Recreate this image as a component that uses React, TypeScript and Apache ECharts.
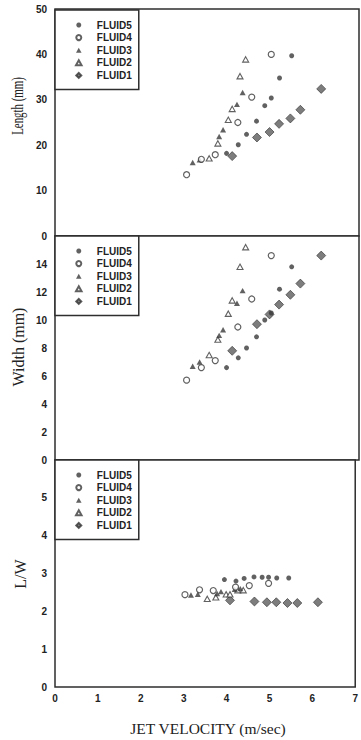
import React, { useEffect, useRef } from "react";
import * as echarts from "echarts";

// FLUID5 (filled circles)
const X5 = [3.95, 4.22, 4.41, 4.64, 4.83, 4.98, 5.17, 5.45];
const L5 = [18.2, 20.1, 22.4, 25.3, 28.7, 30.4, 34.8, 39.7];
const W5 = [6.6, 7.3, 8.0, 8.8, 10.0, 10.5, 12.2, 13.8];
const R5 = [2.84, 2.8, 2.87, 2.91, 2.9, 2.9, 2.88, 2.88];
// FLUID4 (open circles)
const X4 = [3.03, 3.37, 3.69, 4.21, 4.53, 4.98];
const L4 = [13.5, 16.9, 17.9, 25.0, 30.6, 40.0];
const W4 = [5.7, 6.6, 7.1, 9.5, 11.5, 14.6];
const R4 = [2.44, 2.57, 2.55, 2.64, 2.68, 2.74];
// FLUID3 (filled triangles)
const X3 = [3.17, 3.33, 3.78, 3.87, 4.19, 4.32];
const L3 = [16.2, 16.8, 21.9, 23.4, 29.0, 31.6];
const W3 = [6.7, 7.0, 8.9, 9.3, 11.2, 12.1];
const R3 = [2.43, 2.45, 2.47, 2.52, 2.58, 2.6];
// FLUID2 (open triangles)
const X2 = [3.55, 3.75, 3.99, 4.08, 4.26, 4.39];
const L2 = [17.1, 20.4, 25.6, 28.0, 35.2, 38.9];
const W2 = [7.5, 8.6, 10.45, 11.4, 13.8, 15.2];
const R2 = [2.33, 2.37, 2.45, 2.45, 2.56, 2.56];
// FLUID1 (diamonds)
const X1 = [4.08, 4.65, 4.94, 5.16, 5.42, 5.65, 6.13];
const L1 = [17.6, 21.7, 22.9, 24.7, 25.9, 27.8, 32.4];
const W1 = [7.8, 9.7, 10.4, 11.1, 11.8, 12.6, 14.6];
const R1 = [2.29, 2.26, 2.24, 2.24, 2.22, 2.22, 2.24];

const NAMES = ["FLUID5", "FLUID4", "FLUID3", "FLUID2", "FLUID1"];
const Y_NAMES = ["Length (mm)", "Width (mm)", "L/W"];
const X_NAME = "JET VELOCITY (m/sec)";

const DARK = "#2e2e2e";
const TRI = "path://M5,0L10,9L0,9Z";
const DIA = "path://M5,0L10,5L5,10L0,5Z";

const zip = (xs: number[], ys: number[]) => xs.map((x, i) => [x, ys[i]]);

export default function App() {
  const ref = useRef<HTMLDivElement>(null);
  useEffect(() => {
    if (!ref.current) return;
    const chart = echarts.init(ref.current, undefined, { renderer: "svg" });

    const grids = [
      { left: 55, right: 2, top: 9, height: 227 },
      { left: 55, right: 2, top: 236, height: 224 },
      { left: 55, right: 2, top: 460, height: 227 },
    ].map((g) => ({
      ...g,
      show: true,
      borderColor: DARK,
      borderWidth: 1.5,
      backgroundColor: "#fff",
    }));

    const yCfg = [
      { max: 50, interval: 10, showMax: true },
      { max: 16, interval: 2, showMax: false },
      { max: 6, interval: 1, showMax: false },
    ];

    const labelStyle = {
      color: "#222",
      fontFamily: "Liberation Sans",
      fontWeight: "bold" as const,
      fontSize: 10,
    };

    const xAxis = [0, 1, 2].map((i) => ({
      type: "value",
      gridIndex: i,
      min: 0,
      max: 7,
      interval: 1,
      axisLine: { show: false },
      axisTick: { show: false },
      splitLine: { show: false },
      axisLabel: { show: i === 2, margin: 6, ...labelStyle },
    }));

    const yAxis = yCfg.map((c, i) => ({
      type: "value",
      gridIndex: i,
      min: 0,
      max: c.max,
      interval: c.interval,
      axisLine: { show: false },
      axisTick: { show: false },
      splitLine: { show: false },
      axisLabel: { showMaxLabel: c.showMax, margin: 8, ...labelStyle },
    }));

    const panels = [
      [L5, L4, L3, L2, L1],
      [W5, W4, W3, W2, W1],
      [R5, R4, R3, R2, R1],
    ];
    const xs = [X5, X4, X3, X2, X1];
    const styles = [
      { symbol: "circle", symbolSize: 5, itemStyle: { color: "#3a3a3a" } },
      {
        symbol: "circle",
        symbolSize: 6,
        itemStyle: { color: "#fff", borderColor: "#3a3a3a", borderWidth: 1.2 },
      },
      { symbol: TRI, symbolSize: 6, itemStyle: { color: "#3a3a3a" } },
      {
        symbol: TRI,
        symbolSize: 6,
        itemStyle: { color: "#fff", borderColor: "#3a3a3a", borderWidth: 1.1 },
      },
      {
        symbol: DIA,
        symbolSize: 9,
        itemStyle: { color: "#5c5c5c", borderColor: "#333", borderWidth: 0.8 },
      },
    ];

    const series: any[] = [];
    panels.forEach((ys, p) => {
      ys.forEach((arr, k) => {
        series.push({
          type: "scatter",
          name: NAMES[k],
          xAxisIndex: p,
          yAxisIndex: p,
          data: zip(xs[k], arr),
          symbolKeepAspect: true,
          ...styles[k],
          z: 10 - k,
        });
      });
    });

    const legend = [10, 236, 460].map((top) => ({
      left: 55,
      top,
      orient: "vertical",
      data: NAMES,
      itemWidth: 26,
      itemHeight: 5,
      itemGap: 2.6,
      symbolKeepAspect: true,
      padding: [10, 7, 9, 20],
      borderColor: DARK,
      borderWidth: 1.5,
      backgroundColor: "#fff",
      selectedMode: false,
      textStyle: {
        color: "#222",
        fontFamily: "Liberation Sans",
        fontWeight: "bold",
        fontSize: 10,
        lineHeight: 10,
      },
    }));

    const nameFont = "Liberation Serif";
    const graphic: any[] = [
      {
        type: "text",
        x: 18,
        y: 106,
        rotation: Math.PI / 2,
        scaleX: 0.68,
        style: {
          text: Y_NAMES[0],
          font: `16px '${nameFont}'`,
          fill: "#222",
          align: "center",
          verticalAlign: "middle",
        },
      },
      {
        type: "text",
        x: 18,
        y: 347,
        rotation: Math.PI / 2,
        style: {
          text: Y_NAMES[1],
          font: `16px '${nameFont}'`,
          fill: "#222",
          align: "center",
          verticalAlign: "middle",
        },
      },
      {
        type: "text",
        x: 20,
        y: 574,
        rotation: Math.PI / 2,
        style: {
          text: Y_NAMES[2],
          font: `16px '${nameFont}'`,
          fill: "#222",
          align: "center",
          verticalAlign: "middle",
        },
      },
      {
        type: "text",
        x: 208,
        y: 728,
        style: {
          text: X_NAME,
          font: `15.5px '${nameFont}'`,
          fill: "#222",
          align: "center",
          verticalAlign: "middle",
        },
      },
    ];

    chart.setOption({
      animation: false,
      backgroundColor: "#fff",
      grid: grids,
      xAxis,
      yAxis,
      legend,
      series,
      graphic,
    });
    return () => chart.dispose();
  }, []);

  return (
    <div
      ref={ref}
      style={{ position: "fixed", left: 0, top: 0, width: 361, height: 740 }}
    />
  );
}
